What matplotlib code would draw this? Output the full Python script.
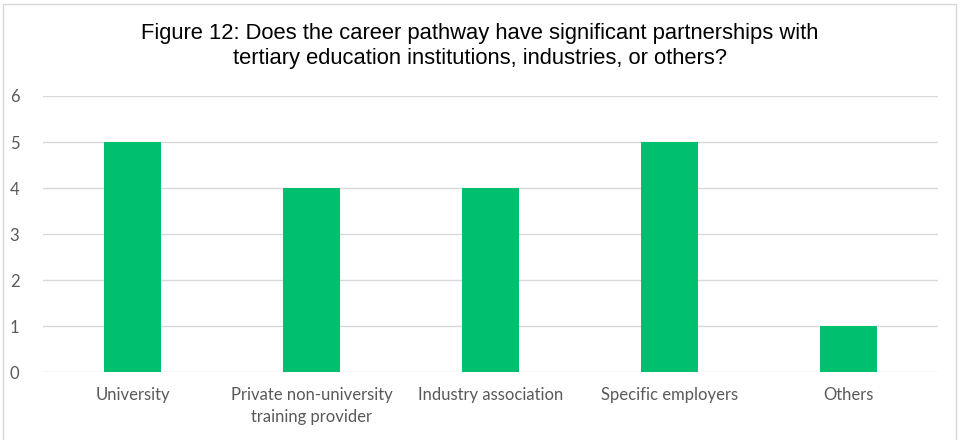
import matplotlib.pyplot as plt
from matplotlib.patches import Rectangle

categories = ["University", "Private non-university\ntraining provider",
              "Industry association", "Specific employers", "Others"]
counts = [5, 4, 4, 5, 1]
y_ticks = [0, 1, 2, 3, 4, 5, 6]

W, H = 960, 440
fig = plt.figure(figsize=(W / 100, H / 100), dpi=100)
fig.patch.set_facecolor("white")

# thin grey frame around the whole chart
fig.patches.append(Rectangle((3 / W, -0.05), 953 / W, 1.05 - 4 / H,
                             transform=fig.transFigure, fill=False,
                             edgecolor="#D9D9D9", linewidth=1.0))

ax = fig.add_axes([43 / W, (H - 372) / H, (938 - 43) / W, (372 - 96) / H])
x = range(len(categories))
ax.bar(x, counts, width=0.32, color="#00BF6F", zorder=3)

ax.set_xlim(-0.5, len(categories) - 0.5)
ax.set_ylim(0, 6)
ax.set_yticks(y_ticks)
ax.set_xticks(list(x))
ax.set_xticklabels(categories, fontfamily="Lato", fontsize=12, color="#595959",
                   linespacing=1.45)
ax.set_yticklabels([str(v) for v in y_ticks], fontfamily="Lato", fontsize=12,
                   color="#595959")
ax.tick_params(axis="both", length=0)
ax.tick_params(axis="y", pad=17)
ax.tick_params(axis="x", pad=11)
ax.yaxis.grid(True, color="#D9D9D9", linewidth=1.0, zorder=0)
for s in ax.spines.values():
    s.set_visible(False)

fig.text(0.5, 1 - 46 / H,
         "Figure 12: Does the career pathway have significant partnerships with\n"
         "tertiary education institutions, industries, or others?",
         ha="center", va="center", fontfamily="Liberation Sans", fontsize=15.8,
         color="black", linespacing=1.2)

fig.savefig("out.png", dpi=100)
